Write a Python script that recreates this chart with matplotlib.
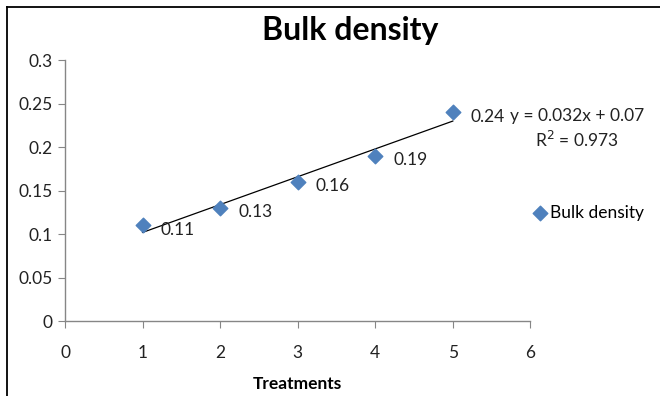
import matplotlib.pyplot as plt
import numpy as np
from matplotlib.lines import Line2D

plt.rcParams['font.family'] = ['Lato', 'DejaVu Sans']

treatments = [1, 2, 3, 4, 5]
bulk_density = [0.11, 0.13, 0.16, 0.19, 0.24]
x_ticks = [0, 1, 2, 3, 4, 5, 6]
y_ticks = [0, 0.05, 0.1, 0.15, 0.2, 0.25, 0.3]
y_labels = ["0", "0.05", "0.1", "0.15", "0.2", "0.25", "0.3"]

fig = plt.figure(figsize=(6.6, 3.96), dpi=100)
ax = fig.add_axes([0.0985, 0.189, 0.705, 0.659])

blue = "#4F81BD"
axis_col = "#868686"

ax.scatter(treatments, bulk_density, marker="D", s=55, color=blue, zorder=3,
           label="Bulk density")

# linear trendline
slope, intercept = np.polyfit(treatments, bulk_density, 1)
xs = np.array([treatments[0], treatments[-1]])
ax.plot(xs, slope * xs + intercept, color="black", lw=0.9, zorder=2)

for x, y in zip(treatments, bulk_density):
    ax.annotate(f"{y:g}", (x, y), xytext=(13, -3), textcoords="offset points",
                ha="left", va="center", fontsize=12.5, color="#222222")

ax.text(6.6, 0.236, f"y = {slope:.3f}x + {intercept:.2f}", ha="center",
        va="center", fontsize=12.5, color="#222222")
ax.text(6.6, 0.208, f"R$^2$ = 0.973", ha="center", va="center",
        fontsize=12.5, color="#222222")

ax.set_xlim(0, 6)
ax.set_ylim(0, 0.3)
ax.set_xticks(x_ticks)
ax.set_yticks(y_ticks)
ax.set_yticklabels(y_labels)
ax.tick_params(axis="both", colors=axis_col, labelcolor="#222222",
               labelsize=12.5, length=5)
ax.tick_params(axis="x", pad=12)
ax.tick_params(axis="y", pad=4)
for s in ["top", "right"]:
    ax.spines[s].set_visible(False)
for s in ["left", "bottom"]:
    ax.spines[s].set_color(axis_col)
    ax.spines[s].set_linewidth(1)

ax.set_xlabel("Treatments", fontsize=12.5, fontweight="bold", labelpad=11)
fig.text(0.53, 0.922, "Bulk density", ha="center", va="center",
         fontsize=23, fontweight="bold")

fig.legend(loc="center left", bbox_to_anchor=(0.805, 0.463), frameon=False,
           fontsize=12.5, handletextpad=0.1, handlelength=1.0,
           borderaxespad=0, borderpad=0)

# chart border (top and left visible)
fig.add_artist(Line2D([0.011, 0.011], [0, 0.982], color="black", lw=1.3,
                      transform=fig.transFigure))
fig.add_artist(Line2D([0.011, 1], [0.982, 0.982], color="black", lw=1.3,
                      transform=fig.transFigure))

fig.savefig("out.png", dpi=100)
